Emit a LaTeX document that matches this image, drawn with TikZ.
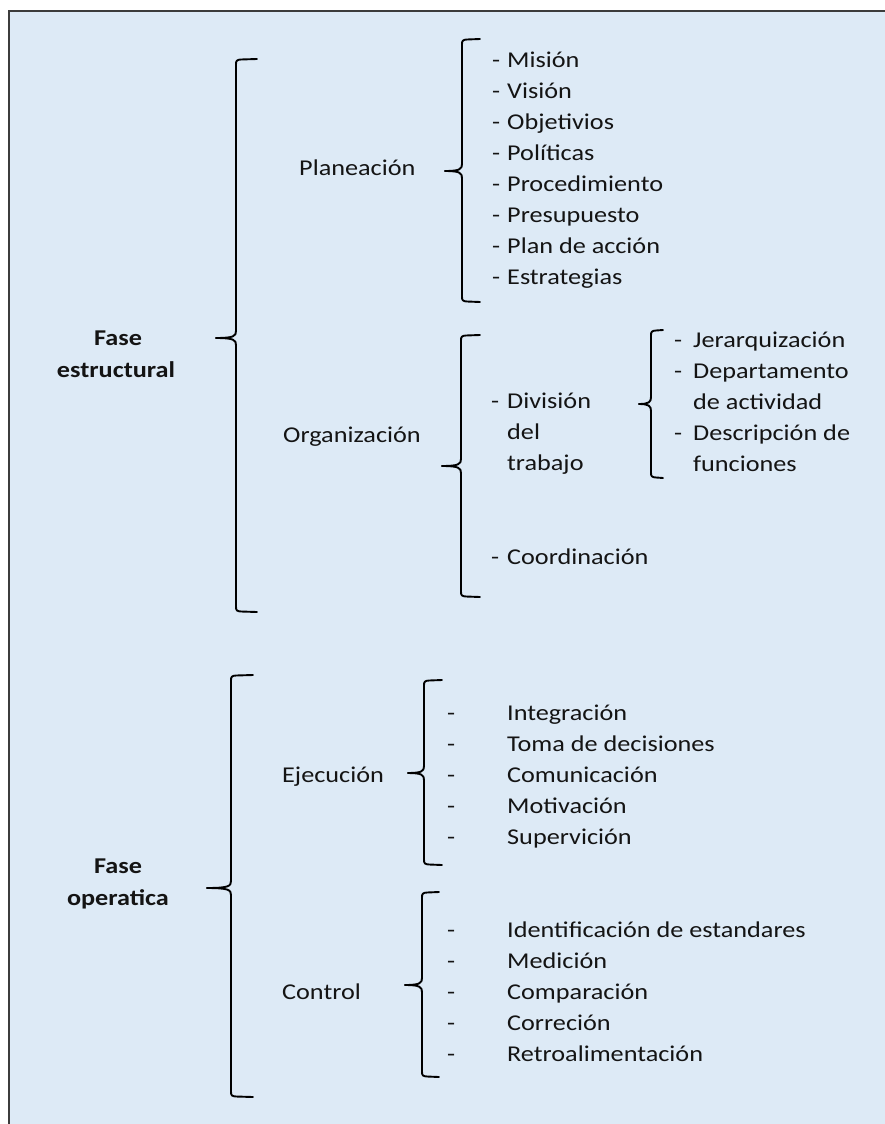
\documentclass[tikz,border=0pt]{standalone}
\usepackage{fontspec}
\setmainfont{Carlito}[FakeStretch=1.16]
\definecolor{bgblue}{RGB}{221,234,246}
\definecolor{framegray}{RGB}{60,60,60}
\definecolor{ink}{RGB}{20,20,20}
\tikzset{
  txt/.style={anchor=base west, inner sep=0pt, text=ink, font=\fontsize{22.6}{27}\selectfont},
  btxt/.style={anchor=base, inner sep=0pt, text=ink, font=\fontsize{22.6}{27}\selectfont\bfseries},
  brc/.style={line width=1.9pt, draw=black, line cap=round, line join=round},
}
% #1 x of vertical, #2 top y, #3 tip y, #4 bottom y, #5 tip x, #6 hook end x
\newcommand{\drawcurly}[6]{%
  \draw[brc] (#6,#2) -- (#1+5,#2+0.5) .. controls (#1+1,#2+0.8) and (#1,#2+1.5) .. (#1,#2+5)
    -- (#1,#3-7) .. controls (#1,#3-2) and (#1-2,#3) .. (#5,#3);
  \draw[brc] (#5,#3) .. controls (#1-2,#3) and (#1,#3+2) .. (#1,#3+7)
    -- (#1,#4-5) .. controls (#1,#4-1.5) and (#1+1,#4-0.8) .. (#1+5,#4-0.5) -- (#6,#4);}
\begin{document}
\begin{tikzpicture}[x=1pt,y=-1pt]
\useasboundingbox (0,0) rectangle (885,1124);
\clip (0,0) rectangle (885,1124);
\draw[fill=bgblue, draw=framegray, line width=1.1pt] (9,11) rectangle (900,1140);

% Fase estructural
\node[btxt] (fe1) at (118,345) {Fase};
\node[btxt] (fe2) at (116,377) {estructural};
\drawcurly{236}{59}{338}{612}{216}{257}

% Planeacion
\node[txt] (plan) at (299,175) {Planeación};
\drawcurly{462}{39}{171}{302}{445}{480}
\foreach \t [count=\i from 0] in {Misión,Visión,Objetivios,Políticas,Procedimiento,Presupuesto,Plan de acción,Estrategias}{
  \node[txt] (pd\i) at (492,{67.7+31.04*\i}) {-};
  \node[txt] (pi\i) at (507,{67.7+31.04*\i}) {\t};
}

% Organizacion
\node[txt] (org) at (283,442) {Organización};
\drawcurly{461}{335}{466}{597}{442}{480}
\node[txt] (od1) at (491,408) {-};
\node[txt] (oi1a) at (507,408) {División};
\node[txt] (oi1b) at (507,439) {del};
\node[txt] (oi1c) at (507,470) {trabajo};
\node[txt] (od2) at (491,564) {-};
\node[txt] (oi2) at (507,564) {Coordinación};

% Division sub-brace
\drawcurly{651}{330}{404}{478}{639}{663}
\node[txt] (sd1) at (674,347) {-};
\node[txt] (si1) at (693,347) {Jerarquización};
\node[txt] (sd2) at (674,378) {-};
\node[txt] (si2a) at (693,378) {Departamento};
\node[txt] (si2b) at (693,409) {de actividad};
\node[txt] (sd3) at (674,440) {-};
\node[txt] (si3a) at (693,440) {Descripción de};
\node[txt] (si3b) at (693,471) {funciones};

% Fase operatica
\node[btxt] (fo1) at (118,873) {Fase};
\node[btxt] (fo2) at (118,905) {operatica};
\drawcurly{231}{675}{888}{1097}{207}{253}

% Ejecucion
\node[txt] (eje) at (282,782) {Ejecución};
\drawcurly{424}{680}{773}{865}{408}{442}
\foreach \t [count=\i from 0] in {Integración,Toma de decisiones,Comunicación,Motivación,Supervición}{
  \node[txt] (ed\i) at (447,{720+31*\i}) {-};
  \node[txt] (ei\i) at (507,{720+31*\i}) {\t};
}

% Control
\node[txt] (con) at (282,999) {Control};
\drawcurly{422}{892}{985}{1077}{405}{439}
\foreach \t [count=\i from 0] in {Identificación de estandares,Medición,Comparación,Correción,Retroalimentación}{
  \node[txt] (cd\i) at (447,{937+31*\i}) {-};
  \node[txt] (ci\i) at (507,{937+31*\i}) {\t};
}
\end{tikzpicture}
\end{document}
